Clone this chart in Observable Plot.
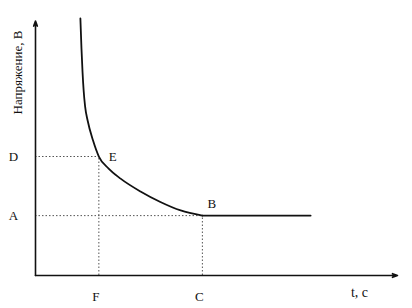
<!DOCTYPE html>
<html><head><meta charset="utf-8">
<script src="https://cdn.jsdelivr.net/npm/d3@7"></script>
<script src="https://cdn.jsdelivr.net/npm/@observablehq/plot@0.6"></script>
<style>body{margin:0;background:#fff}</style>
</head><body><div id="chart"></div>
<script>
// curve: time (abstract units) and voltage (abstract units)
const curveT = [12.4, 12.7, 13.0, 13.3, 13.7, 14.4, 15.9, 17.5, 20.2, 23.5, 29.0, 34.5, 40.1, 46.1];
const curveU = [100, 88.3, 79.0, 72.0, 65.8, 60.3, 52.5, 46.3, 41.6, 37.7, 32.7, 28.6, 25.3, 23.3];
const flatT = [46.1, 76.0];
const flatU = [23.3, 23.3];
// key points
const pointNames = ["E", "B"];
const pointT = [17.5, 46.1];
const pointU = [46.3, 23.3];
const yTickNames = ["D", "A"];
const xTickNames = ["F", "C"];
const yLabel = "Напряжение, В";
const xLabel = "t, c";

const curve = curveT.map((t, i) => ({t, u: curveU[i]}));
const flat = flatT.map((t, i) => ({t, u: flatU[i]}));
const pts = pointNames.map((n, i) => ({n, t: pointT[i], u: pointU[i], yn: yTickNames[i], xn: xTickNames[i]}));
const font = "Liberation Serif, Times New Roman, serif";

const chart = Plot.plot({
  width: 412, height: 308,
  marginLeft: 35, marginRight: 15, marginTop: 18, marginBottom: 33,
  x: {domain: [0, 100], axis: null},
  y: {domain: [0, 100], axis: null},
  style: {fontFamily: font, fontSize: "13px", background: "#fff", color: "#111"},
  marks: [
    // dotted guide lines
    Plot.ruleY(pts, {y: "u", x1: 0, x2: "t", stroke: "#555", strokeWidth: 1, strokeDasharray: "1.5,2"}),
    Plot.ruleX(pts, {x: "t", y1: 0, y2: "u", stroke: "#555", strokeWidth: 1, strokeDasharray: "1.5,2"}),
    // axes with arrows
    Plot.arrow([{x1: 0, y1: 0, x2: 0, y2: 99}], {x1: "x1", y1: "y1", x2: "x2", y2: "y2", stroke: "#111", strokeWidth: 1.6, headLength: 5, headAngle: 40}),
    Plot.arrow([{x1: 0, y1: 0, x2: 100, y2: 0}], {x1: "x1", y1: "y1", x2: "x2", y2: "y2", stroke: "#111", strokeWidth: 1.6, headLength: 5, headAngle: 40}),
    // tick labels
    Plot.text(pts, {x: 0, y: "u", text: "yn", dx: -22, fontSize: 13, fill: "#111"}),
    Plot.text(pts, {x: "t", y: 0, text: "xn", dy: 21, dx: -3, fontSize: 13, fill: "#111"}),
    // curve
    Plot.line(curve, {x: "t", y: "u", curve: "monotone-x", stroke: "#111", strokeWidth: 1.8}),
    Plot.line(flat, {x: "t", y: "u", stroke: "#111", strokeWidth: 1.8}),
    // point labels
    Plot.text(pts.slice(0, 1), {x: "t", y: "u", text: "n", textAnchor: "start", dx: 10, dy: 0, fontSize: 13, fill: "#111"}),
    Plot.text(pts.slice(1), {x: "t", y: "u", text: "n", textAnchor: "start", dx: 5, dy: -12, fontSize: 13, fill: "#111"}),
    // axis labels
    Plot.text([yLabel], {x: -5, y: 79, text: d => d, rotate: -90, fontSize: 13, fill: "#111"}),
    Plot.text([xLabel], {x: 89.5, y: 0, text: d => d, dy: 17, fontSize: 14, fill: "#111"})
  ]
});
document.getElementById("chart").append(chart);
</script>
</body></html>
